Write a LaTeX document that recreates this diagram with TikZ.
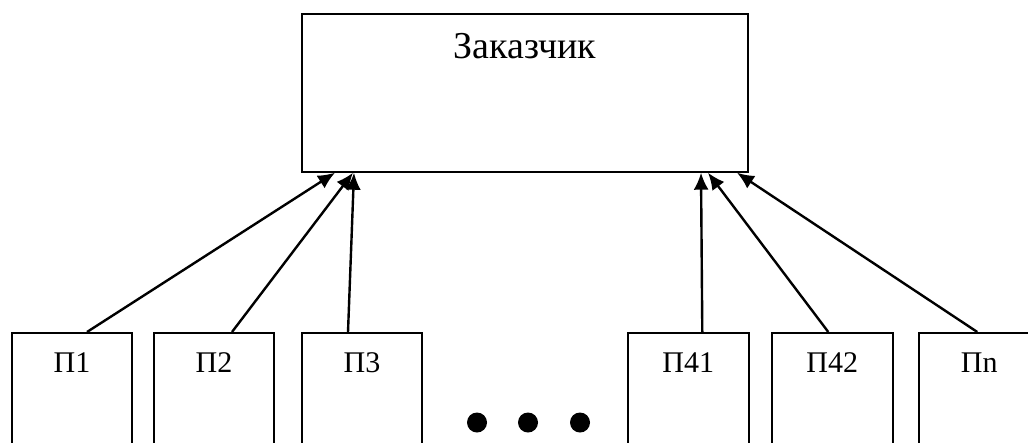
\documentclass[tikz,border=0pt]{standalone}
\usepackage{fontspec}
\setmainfont{Liberation Serif}
\usetikzlibrary{arrows.meta}
\begin{document}
\begin{tikzpicture}[x=1pt,y=1pt,
  box/.style={draw,line width=2pt,inner sep=0pt,anchor=north,align=center},
  bigbox/.style={box,minimum width=446pt,text height=45pt,text depth=113pt,font=\fontsize{38}{42}\selectfont},
  pbox/.style={box,minimum width=120.5pt,text height=39pt,text depth=110pt,font=\fontsize{30}{34}\selectfont},
  conn/.style={line width=2.4pt,-{Latex[length=17pt,width=15pt]}},
  dot/.style={circle,fill,inner sep=0pt,minimum size=20pt}]
\useasboundingbox (0,0) rectangle (1028,-442);
\clip (0,0) rectangle (1028,-442);
\node[bigbox] (boss) at (525,-12.7) {Заказчик};
\node[pbox] (p1) at (72,-332) {П1};
\node[pbox] (p2) at (214,-332) {П2};
\node[pbox] (p3) at (362,-332) {П3};
\node[pbox] (p41) at (688.3,-332) {П41};
\node[pbox] (p42) at (832.3,-332) {П42};
\node[pbox] (pn) at (979.3,-332) {Пn};
\node[dot] (d1) at (477,-422.5) {};
\node[dot] (d2) at (528,-422.5) {};
\node[dot] (d3) at (580,-422.5) {};
\draw[conn] ([xshift=15pt]p1.north) -- ([xshift=34pt]boss.south west);
\draw[conn] ([xshift=18pt]p2.north) -- ([xshift=52pt]boss.south west);
\draw[conn] ([xshift=-14pt]p3.north) -- ([xshift=53pt]boss.south west);
\draw[conn] ([xshift=14pt]p41.north) -- ([xshift=400pt]boss.south west);
\draw[conn] ([xshift=-4pt]p42.north) -- ([xshift=407pt]boss.south west);
\draw[conn] ([xshift=-2pt]pn.north) -- ([xshift=436pt]boss.south west);
\end{tikzpicture}
\end{document}
